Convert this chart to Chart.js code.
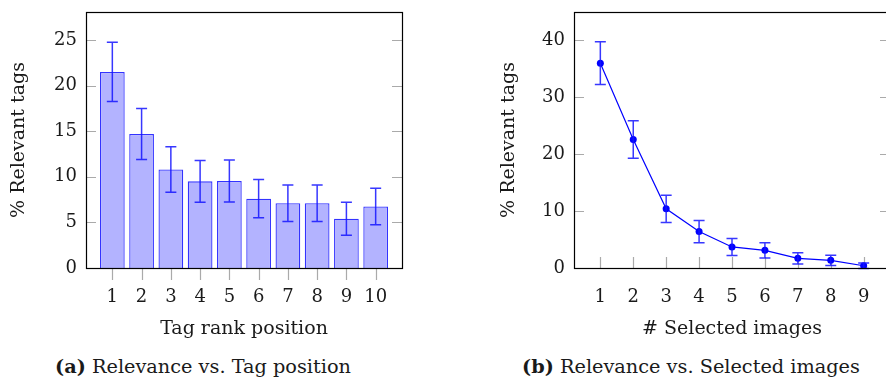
<!DOCTYPE html>
<html>
<head>
<meta charset="utf-8">
<script src="https://cdn.jsdelivr.net/npm/chart.js@4.4.1/dist/chart.umd.min.js"></script>
<style>
  html, body { margin: 0; padding: 0; background: #fff; overflow: hidden; width: 886px; height: 378px; }
  canvas { position: absolute; }
  #chartA { left: 0; top: 0; }
  #chartB { left: 490px; top: 0; }
  .cap { position: absolute; top: 357px; line-height: 20px; font-family: 'DejaVu Serif', serif; font-size: 19.3px; color: #1a1a1a; white-space: nowrap; transform: translateX(-50%); }
</style>
</head>
<body>
<canvas id="chartA" width="440" height="345"></canvas>
<canvas id="chartB" width="420" height="345"></canvas>
<div class="cap" style="left:203px"><b>(a)</b> Relevance vs. Tag position</div>
<div class="cap" style="left:691px"><b>(b)</b> Relevance vs. Selected images</div>
<script>
// (a) relevance by tag rank position
var tagPos = [1, 2, 3, 4, 5, 6, 7, 8, 9, 10];
var relTag = [21.5, 14.7, 10.8, 9.5, 9.55, 7.6, 7.1, 7.1, 5.4, 6.75];
var errTag = [3.25, 2.8, 2.5, 2.3, 2.3, 2.1, 2.0, 2.0, 1.8, 2.0];
var yTicksA = [0, 5, 10, 15, 20, 25];

// (b) relevance by number of selected images
var selImgs = [1, 2, 3, 4, 5, 6, 7, 8, 9];
var relImg = [36, 22.6, 10.4, 6.4, 3.7, 3.1, 1.7, 1.35, 0.4];
var errImg = [3.75, 3.3, 2.4, 1.95, 1.5, 1.35, 1.0, 0.9, 0.5];
var yTicksB = [0, 10, 20, 30, 40];

var serif = 'DejaVu Serif';

// gray tick marks + black frame round the plot area
var frame = {
    id: 'frame',
    beforeDatasetsDraw: function (chart, args, opts) {
        var ctx = chart.ctx, a = chart.chartArea;
        var sx = chart.scales.x, sy = chart.scales.y;
        ctx.save();
        ctx.strokeStyle = '#aaaaaa';
        ctx.lineWidth = 1.2;
        ctx.beginPath();
        sy.ticks.forEach(function (t) {
            var py = Math.round(sy.getPixelForValue(t.value)) + 0.5;
            ctx.moveTo(a.left, py); ctx.lineTo(a.left + 10, py);
            ctx.moveTo(a.right - 10, py); ctx.lineTo(a.right, py);
        });
        sx.ticks.forEach(function (t) {
            var px = Math.round(sx.getPixelForValue(t.value)) + 0.5;
            if (opts.xInside) {
                ctx.moveTo(px, a.bottom); ctx.lineTo(px, a.bottom - 11);
            } else {
                ctx.moveTo(px, a.bottom); ctx.lineTo(px, a.bottom + 12);
            }
        });
        ctx.stroke();
        ctx.restore();
    },
    afterDraw: function (chart) {
        var ctx = chart.ctx, a = chart.chartArea;
        ctx.save();
        ctx.strokeStyle = '#000';
        ctx.lineWidth = 1.2;
        ctx.strokeRect(Math.round(a.left) + 0.5, Math.round(a.top) + 0.5, Math.round(a.width), Math.round(a.height));
        ctx.restore();
    }
};

// error bars read from dataset.errors
var errorBars = {
    id: 'errorBars',
    afterDatasetsDraw: function (chart) {
        var ctx = chart.ctx, sy = chart.scales.y;
        chart.data.datasets.forEach(function (ds, di) {
            if (!ds.errors) return;
            var meta = chart.getDatasetMeta(di);
            ctx.save();
            ctx.strokeStyle = ds.errorColor;
            ctx.lineWidth = 1.5;
            meta.data.forEach(function (el, i) {
                var v = ds.data[i].y, e = ds.errors[i];
                var x = el.x, y1 = sy.getPixelForValue(v + e), y2 = sy.getPixelForValue(v - e);
                ctx.beginPath();
                ctx.moveTo(x, y1); ctx.lineTo(x, y2);
                ctx.moveTo(x - 5.5, y1); ctx.lineTo(x + 5.5, y1);
                ctx.moveTo(x - 5.5, y2); ctx.lineTo(x + 5.5, y2);
                ctx.stroke();
            });
            ctx.restore();
        });
    }
};

function noPad(s) {
    s.paddingTop = 0; s.paddingBottom = 0; s.paddingLeft = 0; s.paddingRight = 0;
}

function axes(xMin, xMax, xTicks, yMax, yTicks, xTitle, yWidth) {
    return {
        x: {
            type: 'linear', min: xMin, max: xMax, offset: false,
            afterBuildTicks: function (s) { s.ticks = xTicks.map(function (v) { return { value: v }; }); },
            afterFit: function (s) { s.height = 77; noPad(s); },
            grid: { display: false, drawTicks: false },
            border: { display: false },
            ticks: { color: '#1a1a1a', padding: 19, font: { family: serif, size: 18 } },
            title: { display: true, text: xTitle, color: '#1a1a1a', padding: { top: 0, bottom: 5 }, font: { family: serif, size: 19 } }
        },
        y: {
            min: 0, max: yMax,
            afterBuildTicks: function (s) { s.ticks = yTicks.map(function (v) { return { value: v }; }); },
            afterFit: function (s) { s.width = yWidth; noPad(s); },
            grid: { display: false, drawTicks: false },
            border: { display: false },
            ticks: { color: '#1a1a1a', padding: 9, font: { family: serif, size: 18 } },
            title: { display: true, text: '% Relevant tags', color: '#1a1a1a', padding: { top: 8, bottom: 0 }, font: { family: serif, size: 19 } }
        }
    };
}

new Chart(document.getElementById('chartA'), {
    type: 'bar',
    data: {
        datasets: [{
            data: tagPos.map(function (p, i) { return { x: p, y: relTag[i] }; }),
            errors: errTag,
            errorColor: 'rgba(20,20,255,0.85)',
            backgroundColor: '#b3b3ff',
            borderColor: 'rgba(0,0,255,0.8)',
            borderWidth: 1.3,
            barPercentage: 0.845,
            categoryPercentage: 1
        }]
    },
    options: {
        responsive: false,
        animation: false,
        devicePixelRatio: 1,
        layout: { padding: { top: 12, right: 38, left: 0, bottom: 0 } },
        plugins: { legend: { display: false }, tooltip: { enabled: false }, frame: { xInside: false } },
        scales: axes(0.1, 10.9, tagPos, 28.07, yTicksA, 'Tag rank position', 86)
    },
    plugins: [frame, errorBars]
});

new Chart(document.getElementById('chartB'), {
    type: 'line',
    data: {
        datasets: [{
            data: selImgs.map(function (p, i) { return { x: p, y: relImg[i] }; }),
            errors: errImg,
            errorColor: 'rgba(20,20,255,0.85)',
            borderColor: '#0000ff',
            backgroundColor: '#0000ff',
            borderWidth: 1.2,
            pointRadius: 3.5,
            pointBorderWidth: 0,
            tension: 0
        }]
    },
    options: {
        responsive: false,
        animation: false,
        devicePixelRatio: 1,
        layout: { padding: { top: 12, right: 20, left: 0, bottom: 0 } },
        plugins: { legend: { display: false }, tooltip: { enabled: false }, frame: { xInside: true } },
        scales: axes(0.2, 9.8, selImgs, 45, yTicksB, '# Selected images', 84)
    },
    plugins: [frame, errorBars]
});
</script>
</body>
</html>
